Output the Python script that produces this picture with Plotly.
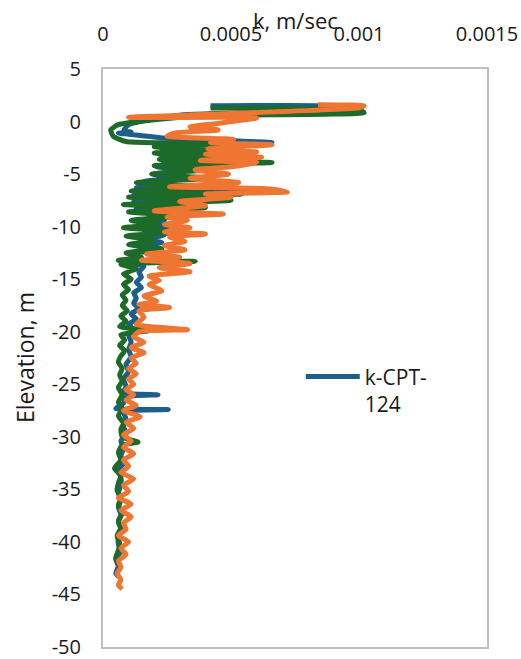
import plotly.graph_objects as go

# ---- data (k in units of 1e-4 m/s, elevation in m) ----
elev_blue = [1.5, 1.45, 1.2, 0.6, -0.3, -0.9, -1.0, -1.1, -1.2, -1.6, -2.0, -2.2, -2.6, -2.8, -3.1, -3.4,
             -3.7, -4.0, -4.3, -4.6, -5.0, -5.3, -5.7, -6.0, -6.3, -6.7, -7.0, -7.3, -7.6, -8.0, -8.3, -8.7,
             -9.0, -9.4, -9.7, -10.0, -10.4, -10.8, -11.2, -11.5, -11.9, -12.2, -12.6, -13.0, -13.4, -13.8,
             -14.3, -14.8, -15.3, -15.8, -16.3, -16.8, -17.3, -17.8, -18.3, -18.8, -19.3, -19.8, -20.3, -21.0,
             -21.7, -22.4, -23.1, -23.8, -24.5, -25.2, -25.8, -26.0, -26.2, -26.8, -27.3, -27.4, -27.6, -28.3,
             -29.0, -29.7, -30.4, -31.1, -31.8, -32.5, -33.2, -33.9, -34.6, -35.3, -36.0, -36.7, -37.4, -38.1,
             -38.8, -39.5, -40.2, -40.9, -41.6, -42.3, -43.0, -43.3]
k_blue = [4.2, 9.3, 9.6, 3.0, 1.0, 0.8, 1.1, 0.6, 1.0, 2.5, 6.6, 3.5, 2.3, 3.4, 2.2, 3.8,
          2.3, 3.9, 2.1, 3.2, 2.0, 2.8, 1.6, 2.6, 1.3, 6.6, 1.2, 3.6, 1.2, 2.3, 1.3, 2.2,
          1.8, 2.4, 1.5, 2.5, 1.6, 2.4, 1.5, 2.3, 1.4, 2.2, 1.1, 1.5, 1.0, 1.6,
          1.4, 1.5, 1.3, 1.5, 1.2, 1.3, 1.2, 1.4, 1.1, 1.3, 1.0, 1.2, 1.0, 1.1,
          1.0, 1.1, 0.9, 1.0, 0.8, 0.9, 0.8, 2.15, 0.9, 0.8, 0.5, 2.55, 0.8, 0.9,
          0.8, 0.9, 0.7, 0.8, 0.7, 0.8, 0.6, 0.7, 0.7, 0.6, 0.7, 0.6, 0.7, 0.6,
          0.7, 0.6, 0.6, 0.7, 0.5, 0.6, 0.5, 0.6]

elev_green = [1.3, 1.1, 0.85, 0.5, -0.3, -0.8, -1.4, -1.9, -2.1, -2.4, -2.7, -3.0, -3.3, -3.6, -3.9, -4.2,
              -4.6, -5.0, -5.4, -5.8, -6.2, -6.6, -6.9, -7.2, -7.5, -7.9, -8.2, -8.6, -9.0, -9.4, -9.8,
              -10.1, -10.5, -10.9, -11.3, -11.7, -12.1, -12.5, -12.9, -13.2, -13.3, -13.6, -14.0, -14.5,
              -15.0, -15.5, -16.0, -16.5, -17.0, -17.5, -18.0, -18.5, -19.0, -19.5, -19.9, -20.3, -20.8,
              -21.3, -21.8, -22.3, -22.9, -23.5, -24.1, -24.7, -25.3, -26.0, -26.7, -27.3, -28.0, -28.7,
              -29.3, -30.0, -30.5, -30.8, -31.5, -32.2, -33.0, -33.7, -34.4, -35.1, -35.8, -36.5, -37.3,
              -38.0, -38.7, -39.4, -40.1, -40.8, -41.5, -42.2]
k_green = [4.2, 10.0, 10.2, 3.5, 0.6, 0.3, 0.4, 0.9, 5.1, 2.0, 4.1, 2.0, 4.3, 2.2, 6.6, 2.0,
           4.0, 1.9, 4.2, 1.3, 3.5, 1.1, 5.4, 1.0, 5.0, 0.8, 4.0, 1.0, 3.2, 1.1, 2.2,
           0.8, 3.0, 0.9, 2.0, 1.0, 2.3, 0.9, 1.5, 0.6, 3.6, 0.7, 1.3, 0.8,
           1.1, 0.8, 1.0, 0.75, 0.9, 0.75, 0.95, 0.7, 0.9, 0.65, 1.8, 0.7, 0.85,
           0.65, 0.85, 0.7, 0.6, 0.75, 0.65, 0.75, 0.6, 0.75, 0.6, 0.75, 0.6, 0.8,
           0.7, 0.75, 1.37, 0.75, 0.6, 0.7, 0.45, 0.7, 0.6, 0.55, 0.7, 0.6, 0.75,
           0.6, 0.7, 0.55, 0.65, 0.6, 0.5, 0.6]

elev_orange = [1.6, 1.5, 1.3, 0.4, 0.35, -0.2, -0.5, -0.8, -1.1, -1.4, -1.7, -2.0, -2.2, -2.6, -2.9, -3.1,
               -3.4, -3.7, -3.9, -4.3, -4.6, -5.0, -5.4, -5.8, -6.2, -6.4, -6.7, -6.9, -7.2, -7.6, -8.0,
               -8.5, -8.8, -9.1, -9.4, -9.8, -10.1, -10.5, -10.7, -11.0, -11.4, -11.8, -12.2, -12.6, -12.9,
               -13.2, -13.5, -13.9, -14.3, -14.7, -15.1, -15.5, -16.1, -16.6, -17.1, -17.4, -17.7, -18.0,
               -18.6, -19.3, -19.8, -20.0, -20.5, -21.0, -21.5, -22.0, -22.5, -23.0, -23.5, -24.0, -24.5,
               -25.0, -25.5, -26.0, -26.5, -27.0, -27.5, -28.1, -28.6, -29.2, -29.8, -30.4, -31.0, -31.6,
               -32.2, -32.8, -33.4, -34.0, -34.6, -35.2, -35.8, -36.4, -37.0, -37.6, -38.2, -38.8, -39.4,
               -40.0, -40.6, -41.2, -41.8, -42.4, -43.0, -43.6, -44.1, -44.5]
k_orange = [8.4, 10.2, 10.0, 1.0, 6.0, 4.4, 3.4, 4.5, 2.8, 2.5, 5.1, 4.2, 6.6, 4.1, 6.0, 4.0,
            6.2, 3.8, 6.0, 5.0, 3.6, 4.9, 3.4, 5.3, 2.6, 6.4, 7.2, 4.0, 5.0, 3.0, 4.0,
            2.0, 4.7, 2.5, 3.3, 2.4, 3.4, 2.4, 4.0, 2.6, 3.2, 2.4, 3.2, 1.7, 3.0,
            1.5, 3.4, 2.2, 3.4, 1.8, 2.2, 1.8, 2.3, 1.6, 2.1, 1.4, 2.6, 1.4,
            1.6, 1.3, 3.3, 1.4, 1.2, 1.6, 1.1, 1.6, 1.1, 1.3, 1.0, 1.3, 1.0,
            1.2, 0.9, 1.2, 0.9, 1.3, 0.8, 1.45, 0.9, 1.2, 0.8, 1.1, 0.8, 1.2,
            0.8, 1.0, 0.7, 1.2, 0.8, 1.0, 0.6, 1.1, 0.7, 1.1, 0.8, 0.9, 0.6,
            1.0, 0.7, 0.9, 0.6, 0.7, 0.55, 0.7, 0.6, 0.75]

SCALE = 1e-4
x_ticks = [0, 0.0005, 0.001, 0.0015]
x_tick_text = ["0", "0.0005", "0.001", "0.0015"]
y_ticks = list(range(-50, 6, 5))
y_tick_text = [str(v) for v in y_ticks]  # plain hyphen-minus, as in the original

FONT = "Open Sans"
TXT = "#1a1a1a"
TICK_SIZE = 20
TITLE_SIZE = 22

fig = go.Figure()
fig.add_trace(go.Scatter(x=[v * SCALE for v in k_blue], y=elev_blue, mode="lines",
                         name="k-CPT-<br>124", line=dict(color="#1C5F8A", width=5, shape="spline", smoothing=0.5)))
fig.add_trace(go.Scatter(x=[v * SCALE for v in k_green], y=elev_green, mode="lines",
                         name="green", showlegend=False,
                         line=dict(color="#1C6B28", width=5, shape="spline", smoothing=0.5)))
fig.add_trace(go.Scatter(x=[v * SCALE for v in k_orange], y=elev_orange, mode="lines",
                         name="orange", showlegend=False,
                         line=dict(color="#EE7632", width=5, shape="spline", smoothing=0.5)))

fig.update_layout(
    width=521, height=659,
    margin=dict(l=103, r=34, t=69, b=12),
    paper_bgcolor="white", plot_bgcolor="white",
    font=dict(family=FONT, size=TICK_SIZE, color=TXT),
    showlegend=True,
    legend=dict(x=0.515, y=0.503, xanchor="left", yanchor="top", bgcolor="rgba(0,0,0,0)",
                font=dict(size=21, color=TXT), itemwidth=54, valign="top"),
    xaxis=dict(side="top", range=[0, 0.0015], tickvals=x_ticks, ticktext=x_tick_text,
               showgrid=False, zeroline=False, showline=True, linecolor="#bfbfbf", linewidth=2,
               mirror=True, ticks="outside", ticklen=18, tickcolor="rgba(0,0,0,0)",
               ticklabeloverflow="allow", automargin=False, tickfont=dict(size=TICK_SIZE)),
    yaxis=dict(range=[-50, 5], tickvals=y_ticks, ticktext=y_tick_text, showgrid=False, zeroline=False,
               showline=True, linecolor="#bfbfbf", linewidth=2, mirror=True, ticks="",
               ticklabelstandoff=16, ticklabeloverflow="allow", automargin=False,
               tickfont=dict(size=TICK_SIZE)),
    annotations=[
        dict(text="k, m/sec", xref="paper", yref="paper", x=0.5, y=1, yshift=49,
             showarrow=False, font=dict(size=TITLE_SIZE, color=TXT), xanchor="center", yanchor="middle"),
        dict(text="Elevation, m", xref="paper", yref="paper", x=0, xshift=-78, y=0.5,
             showarrow=False, textangle=-90, font=dict(size=23, color=TXT),
             xanchor="center", yanchor="middle"),
    ],
)

fig.write_html("out.html")
